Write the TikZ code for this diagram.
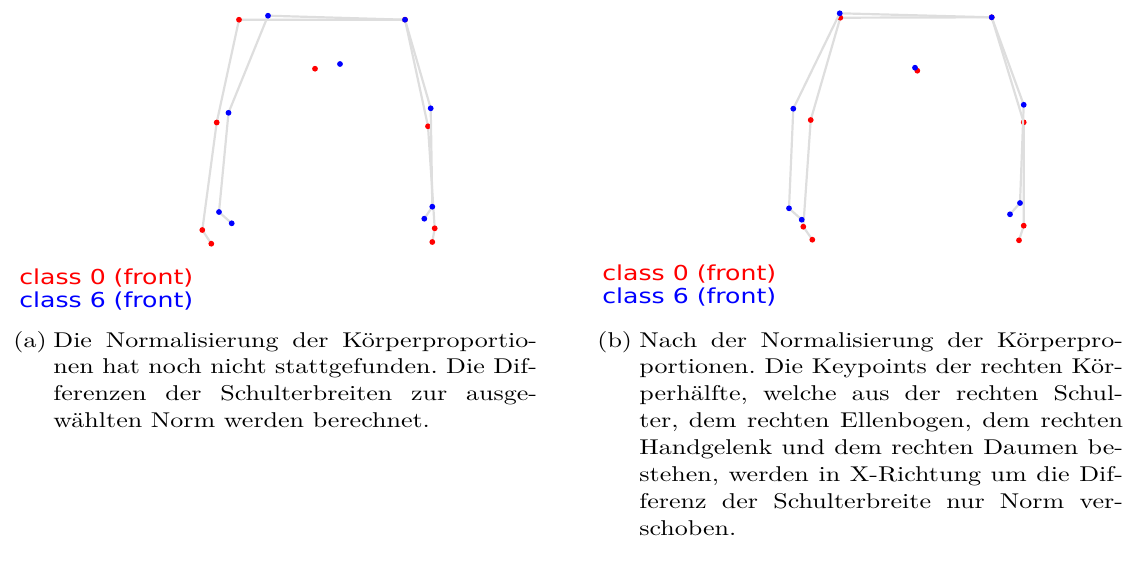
\documentclass[tikz,border=0pt]{standalone}
\usepackage{fontspec}
\usepackage{graphicx}
\newfontfamily\legendfont{DejaVu Sans}
\definecolor{kred}{RGB}{255,0,0}
\definecolor{kblue}{RGB}{0,0,255}
\definecolor{bonegray}{RGB}{222,222,222}
\newcommand{\captxt}[1]{\scalebox{1.30}[1.07]{\parbox[t]{186pt}{\fontsize{10}{12.6}\selectfont\frenchspacing\hbadness=10000\noindent #1}}}
\newcommand{\caplabel}[1]{\scalebox{1.30}[1.07]{\fontsize{10}{12.6}\selectfont #1}}
\newcommand{\legtxt}[1]{\scalebox{1.22}[1]{#1}}
\begin{document}
\begin{tikzpicture}[x=0.5pt,y=-0.5pt,
  bone/.style={draw=bonegray,line width=1.1pt,line cap=round,line join=round},
  rdot/.style={circle,fill=kred,inner sep=0pt,minimum size=2.9pt},
  bdot/.style={circle,fill=kblue,inner sep=0pt,minimum size=2.9pt},
  legend/.style={anchor=base west,inner sep=0pt,font=\legendfont\fontsize{10.3}{12}\selectfont},
  captext/.style={anchor=base west,inner sep=0pt}]
\path[use as bounding box] (0,0) rectangle (1128,574);

% ---------- panel (a) ----------
\coordinate (aRLS) at (239,19.7);
\coordinate (aRRS) at (405,19.7);
\coordinate (aRLE) at (216.7,122.5);
\coordinate (aRLW) at (202.3,230);
\coordinate (aRLT) at (211.3,243.7);
\coordinate (aRRE) at (428,126.3);
\coordinate (aRRW) at (434.7,228.3);
\coordinate (aRRT) at (432.3,242);
\coordinate (aRN) at (315,68.7);
\coordinate (aBLS) at (268,15.7);
\coordinate (aBRS) at (405,19.7);
\coordinate (aBLE) at (228.5,112.8);
\coordinate (aBLW) at (219,212);
\coordinate (aBLT) at (231.7,223.3);
\coordinate (aBRE) at (430.7,108.3);
\coordinate (aBRW) at (432.3,206.7);
\coordinate (aBRT) at (424.3,218.7);
\coordinate (aBN) at (340,64);

\draw[bone] (aRLT) -- (aRLW) -- (aRLE) -- (aRLS) -- (aRRS) -- (aRRE) -- (aRRW) -- (aRRT);
\foreach \p in {aRLS,aRRS,aRLE,aRLW,aRLT,aRRE,aRRW,aRRT,aRN}
  \node[rdot] (d\p) at (\p) {};
\draw[bone] (aBLT) -- (aBLW) -- (aBLE) -- (aBLS) -- (aBRS) -- (aBRE) -- (aBRW) -- (aBRT);
\foreach \p in {aBLS,aBRS,aBLE,aBLW,aBLT,aBRE,aBRW,aBRT,aBN}
  \node[bdot] (d\p) at (\p) {};

% ---------- panel (b) ----------
\coordinate (bRLS) at (840.3,17.7);
\coordinate (bRRS) at (991.7,17.3);
\coordinate (bRLE) at (810.7,120);
\coordinate (bRLW) at (803.3,226.7);
\coordinate (bRLT) at (812.3,239.7);
\coordinate (bRRE) at (1023.7,122.3);
\coordinate (bRRW) at (1023.7,225.7);
\coordinate (bRRT) at (1019,240.3);
\coordinate (bRN) at (917.3,70.7);
\coordinate (bBLS) at (839.7,13.3);
\coordinate (bBRS) at (991.7,17.3);
\coordinate (bBLE) at (793.3,108.7);
\coordinate (bBLW) at (789,208.3);
\coordinate (bBLT) at (801.7,219.7);
\coordinate (bBRE) at (1023.7,104.8);
\coordinate (bBRW) at (1020,203);
\coordinate (bBRT) at (1010,214.3);
\coordinate (bBN) at (915,67.7);

\draw[bone] (bRLT) -- (bRLW) -- (bRLE) -- (bRLS) -- (bRRS) -- (bRRE) -- (bRRW) -- (bRRT);
\foreach \p in {bRLS,bRRS,bRLE,bRLW,bRLT,bRRE,bRRW,bRRT,bRN}
  \node[rdot] (d\p) at (\p) {};
\draw[bone] (bBLT) -- (bBLW) -- (bBLE) -- (bBLS) -- (bBRS) -- (bBRE) -- (bBRW) -- (bBRT);
\foreach \p in {bBLS,bBRS,bBLE,bBLW,bBLT,bBRE,bBRW,bBRT,bBN}
  \node[bdot] (d\p) at (\p) {};

% ---------- legends ----------
\node[legend,text=kred] (legA0) at (19,284) {\legtxt{class 0 (front)}};
\node[legend,text=kblue] (legA6) at (19,307) {\legtxt{class 6 (front)}};
\node[legend,text=kred] (legB0) at (602,280.5) {\legtxt{class 0 (front)}};
\node[legend,text=kblue] (legB6) at (602,303) {\legtxt{class 6 (front)}};

% ---------- captions ----------
\node[captext] (labA) at (13,347) {\caplabel{(a)}};
\node[captext] (capA) at (53,347) {\captxt{Die Normalisierung der Körperproportio-\linebreak nen hat noch nicht stattgefunden. Die Dif-\linebreak ferenzen der Schulterbreiten zur ausge-\linebreak wählten Norm werden berechnet.}};
\node[captext] (labB) at (597,347) {\caplabel{(b)}};
\node[captext] (capB) at (639,347) {\captxt{Nach der Normalisierung der Körperpro-\linebreak portionen. Die Keypoints der rechten Kör-\linebreak perhälfte, welche aus der rechten Schul-\linebreak ter, dem rechten Ellenbogen, dem rechten\linebreak Handgelenk und dem rechten Daumen be-\linebreak stehen, werden in X-Richtung um die Dif-\linebreak ferenz der Schulterbreite nur Norm ver-\linebreak schoben.}};
\end{tikzpicture}
\end{document}
